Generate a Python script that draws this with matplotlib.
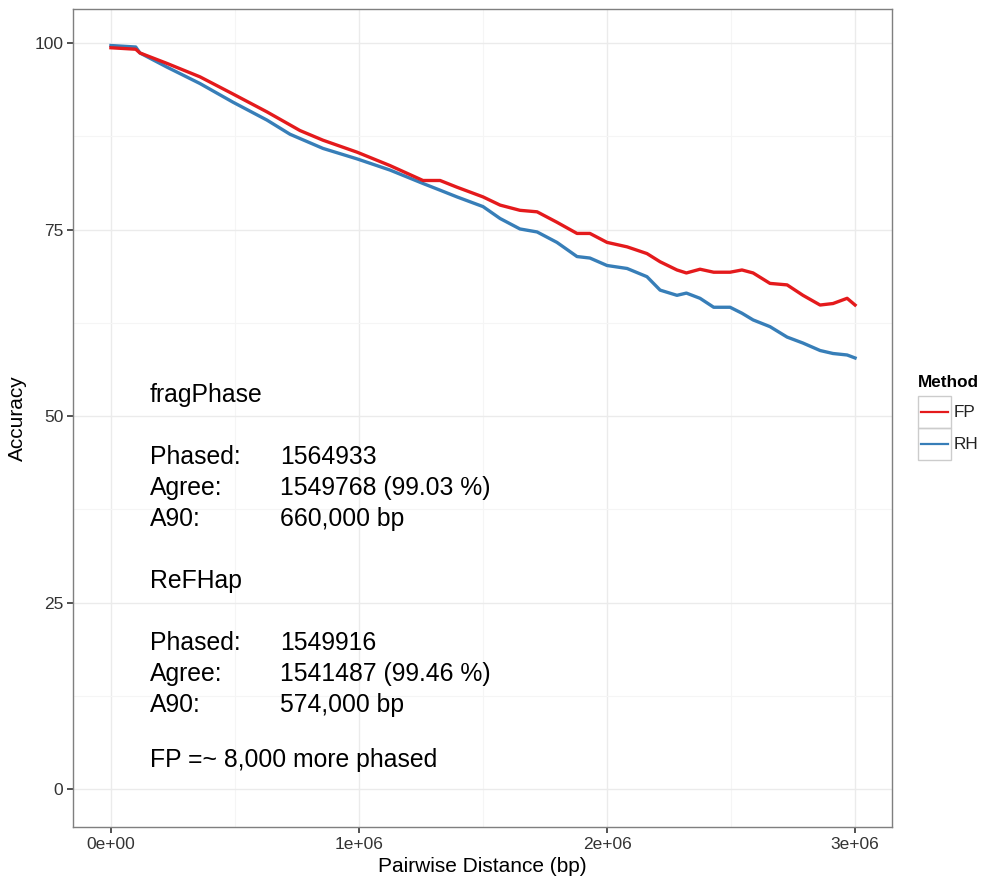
import numpy as np
import matplotlib.pyplot as plt
from matplotlib.lines import Line2D
from matplotlib.patches import Rectangle

# values (distance in bp, accuracy in %)
fp_dist = [0, 0.1e6, 0.117e6, 0.226e6, 0.359e6, 0.492e6, 0.629e6, 0.762e6, 0.855e6,
           0.992e6, 1.125e6, 1.258e6, 1.327e6, 1.395e6, 1.5e6, 1.569e6, 1.649e6,
           1.718e6, 1.798e6, 1.879e6, 1.931e6, 2.0e6, 2.081e6, 2.161e6, 2.214e6,
           2.282e6, 2.32e6, 2.375e6, 2.43e6, 2.496e6, 2.544e6, 2.589e6, 2.657e6,
           2.726e6, 2.79e6, 2.859e6, 2.911e6, 2.968e6, 3.0e6]
fp_acc = [99.4, 99.2, 98.7, 97.3, 95.5, 93.2, 90.8, 88.3, 87.0,
          85.4, 83.6, 81.6, 81.6, 80.7, 79.4, 78.3, 77.6,
          77.4, 76.0, 74.5, 74.5, 73.3, 72.7, 71.8, 70.7,
          69.6, 69.2, 69.7, 69.3, 69.3, 69.6, 69.2, 67.8,
          67.6, 66.2, 64.9, 65.1, 65.8, 64.9]

rh_dist = [0, 0.1e6, 0.117e6, 0.226e6, 0.359e6, 0.492e6, 0.629e6, 0.722e6, 0.855e6,
           0.992e6, 1.125e6, 1.258e6, 1.327e6, 1.395e6, 1.5e6, 1.569e6, 1.649e6,
           1.718e6, 1.798e6, 1.879e6, 1.931e6, 2.0e6, 2.081e6, 2.161e6, 2.214e6,
           2.282e6, 2.32e6, 2.375e6, 2.43e6, 2.496e6, 2.544e6, 2.589e6, 2.657e6,
           2.726e6, 2.79e6, 2.859e6, 2.911e6, 2.968e6, 3.0e6]
rh_acc = [99.7, 99.5, 98.7, 96.8, 94.6, 92.1, 89.7, 87.8, 85.9,
          84.5, 83.0, 81.2, 80.3, 79.4, 78.1, 76.5, 75.1,
          74.7, 73.3, 71.4, 71.2, 70.2, 69.8, 68.7, 66.9,
          66.2, 66.5, 65.8, 64.6, 64.6, 63.8, 62.9, 62.0,
          60.6, 59.8, 58.8, 58.4, 58.2, 57.8]

methods = ["FP", "RH"]
colors = ["#E41A1C", "#377EB8"]

x_ticks = [0, 1e6, 2e6, 3e6]
x_labels = ["0e+00", "1e+06", "2e+06", "3e+06"]
y_ticks = [0, 25, 50, 75, 100]

notes = [
    (52.8, "fragPhase", ""),
    (44.5, "Phased:", "1564933"),
    (40.3, "Agree:", "1549768 (99.03 %)"),
    (36.2, "A90:", "660,000 bp"),
    (27.9, "ReFHap", ""),
    (19.6, "Phased:", "1549916"),
    (15.4, "Agree:", "1541487 (99.46 %)"),
    (11.3, "A90:", "574,000 bp"),
    (3.9, "FP =~ 8,000 more phased", ""),
]

plt.rcParams['font.family'] = ['Liberation Sans', 'DejaVu Sans']

fig = plt.figure(figsize=(9.81, 8.8), dpi=100)
ax = fig.add_axes([0.0744, 0.0602, 0.9093 - 0.0744, 0.9898 - 0.0602])

ax.plot(fp_dist, fp_acc, color=colors[0], lw=2.4, zorder=3)
ax.plot(rh_dist, rh_acc, color=colors[1], lw=2.4, zorder=2)

ax.set_xlim(-0.153e6, 3.149e6)
ax.set_ylim(-5.1, 104.6)
ax.set_xticks(x_ticks)
ax.set_xticklabels(x_labels)
ax.set_yticks(y_ticks)
ax.set_xticks([0.5e6, 1.5e6, 2.5e6], minor=True)
ax.set_yticks([12.5, 37.5, 62.5, 87.5], minor=True)
ax.grid(which='major', color='#EBEBEB', lw=1.0)
ax.grid(which='minor', color='#F5F5F5', lw=0.8)
ax.set_axisbelow(True)
ax.tick_params(which='minor', length=0)
ax.tick_params(which='major', length=4, width=1.2, color='#333333',
               labelsize=12.5, labelcolor='#333333', pad=3)
for s in ax.spines.values():
    s.set_color('#7F7F7F')
    s.set_linewidth(1.0)

ax.set_xlabel("Pairwise Distance (bp)", fontsize=15, labelpad=4)
ax.set_ylabel("Accuracy", fontsize=15, labelpad=5)

for y, a, b in notes:
    ax.text(0.157e6, y, a, fontsize=17.8, va='center', ha='left')
    if b:
        ax.text(0.681e6, y, b, fontsize=17.8, va='center', ha='left')

# legend drawn by hand to get the ggplot key boxes
fw, fh = 981, 880
fig.text(918 / fw, 1 - 382 / fh, "Method", fontsize=12.3, weight='bold',
         ha='left', va='center')
for i, (m, c) in enumerate(zip(methods, colors)):
    top = 396 + i * 32
    fig.add_artist(Rectangle((918 / fw, 1 - (top + 32) / fh), 33 / fw, 32 / fh,
                             transform=fig.transFigure, fill=False,
                             edgecolor='#CCCCCC', lw=1.0))
    yc = 1 - (top + 16) / fh
    fig.add_artist(Line2D([921 / fw, 948 / fw], [yc, yc], color=c, lw=1.6,
                          transform=fig.transFigure))
    fig.text(954 / fw, yc, m, fontsize=12.3, ha='left', va='center',
             color='#222222')

fig.savefig("out.png", dpi=100)
